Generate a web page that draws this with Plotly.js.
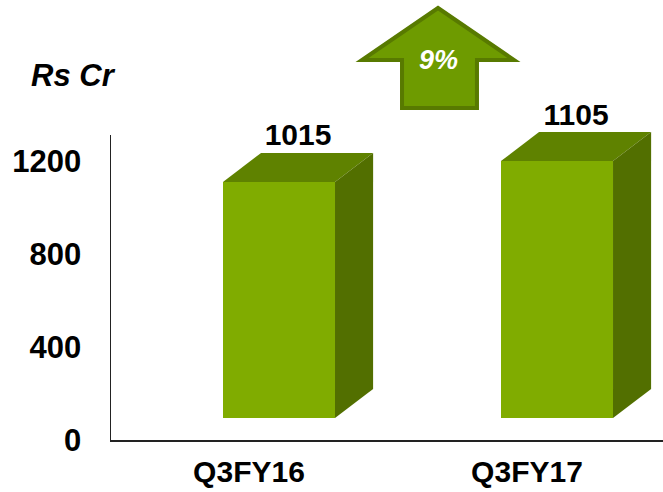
<!DOCTYPE html>
<html>
<head>
<meta charset="utf-8">
<script src="https://cdn.plot.ly/plotly-3.0.1.min.js"></script>
<style>html,body{margin:0;padding:0;background:#fff;}#chart{width:663px;height:492px;}</style>
</head>
<body>
<div id="chart"></div>
<script>
const categories = ['Q3FY16', 'Q3FY17'];
const revenue = [1015, 1105];
const yTicks = [0, 400, 800, 1200];
const growthLabel = '9%';
const unitLabel = 'Rs Cr';

const FONT = 'Arial, "Liberation Sans", sans-serif';
const frontColor = '#80ac00';
const topColor = '#5f8200';
const sideColor = '#526f00';

const barWidth = 0.403;   // in category units
const depthX = 0.137;     // 3D depth, x units
const depthY = 125;       // 3D depth, y units
const labelShift = -0.108;

const idx = categories.map((c, i) => i);
const traces = [];

// front faces
traces.push({
  type: 'bar', x: idx, y: revenue, width: barWidth,
  xaxis: 'x', yaxis: 'y2',
  marker: {color: frontColor, line: {width: 0}},
  hoverinfo: 'skip'
});

// top and side faces computed from the values
idx.forEach(i => {
  const v = revenue[i];
  const x0 = i - barWidth / 2, x1 = i + barWidth / 2;
  traces.push({
    type: 'scatter', mode: 'lines', fill: 'toself',
    x: [x0, x1, x1 + depthX, x0 + depthX, x0],
    y: [v, v, v + depthY, v + depthY, v],
    xaxis: 'x', yaxis: 'y2',
    line: {width: 0, color: topColor}, fillcolor: topColor, hoverinfo: 'skip'
  });
  traces.push({
    type: 'scatter', mode: 'lines', fill: 'toself',
    x: [x1, x1 + depthX, x1 + depthX, x1, x1],
    y: [0, depthY, v + depthY, v, 0],
    xaxis: 'x', yaxis: 'y2',
    line: {width: 0, color: sideColor}, fillcolor: sideColor, hoverinfo: 'skip'
  });
});

// value labels
traces.push({
  type: 'scatter', mode: 'text',
  x: idx.map(i => i + depthX / 2),
  y: revenue.map(v => v + depthY),
  text: revenue.map(v => String(v)),
  textposition: 'top center',
  textfont: {family: FONT, size: 30, color: '#000', weight: 'bold'},
  cliponaxis: false,
  xaxis: 'x', yaxis: 'y2', hoverinfo: 'skip'
});

// invisible trace on main y axis so it is drawn
traces.push({type: 'scatter', mode: 'none', x: [0], y: [0], xaxis: 'x', yaxis: 'y', hoverinfo: 'skip'});

const layout = {
  width: 663, height: 492,
  margin: {l: 111, r: 0, t: 100, b: 52},
  paper_bgcolor: '#ffffff', plot_bgcolor: 'rgba(0,0,0,0)',
  showlegend: false, hovermode: false,
  xaxis: {
    range: [-0.6043, 1.3813], anchor: 'y',
    showline: true, linecolor: '#222', linewidth: 1.5,
    showgrid: false, zeroline: false,
    tickmode: 'array', tickvals: idx.map(i => i + labelShift), ticktext: categories,
    ticks: '', ticklabelstandoff: 4,
    tickfont: {family: FONT, size: 30, color: '#000', weight: 'bold'}
  },
  yaxis: {
    domain: [0, 0.897], range: [0, 1312], anchor: 'x',
    showline: true, linecolor: '#222', linewidth: 1.5,
    showgrid: false, zeroline: false,
    tickmode: 'array', tickvals: yTicks, ticktext: yTicks.map(String),
    ticks: '', ticklabelstandoff: 22,
    tickfont: {family: FONT, size: 31, color: '#000', weight: 'bold'}
  },
  yaxis2: {
    domain: [0.0647, 1], range: [0, 1367.7], anchor: 'x',
    visible: false, showgrid: false, zeroline: false
  },
  bargap: 0,
  shapes: [{
    type: 'path', xref: 'paper', yref: 'paper',
    path: 'M 0.5924 1.2706 L 0.7301 1.1176 L 0.6630 1.1176 L 0.6630 0.9765 L 0.5272 0.9765 L 0.5272 1.1176 L 0.4547 1.1176 Z',
    fillcolor: '#6e9b00', line: {color: '#587a00', width: 4}
  }],
  annotations: [
    {xref: 'paper', yref: 'paper', x: -0.0688, y: 1.0706, xanchor: 'center', yanchor: 'middle',
     text: unitLabel, showarrow: false,
     font: {family: FONT, size: 31, color: '#000', weight: 'bold', style: 'italic'}},
    {xref: 'paper', yref: 'paper', x: 0.5942, y: 1.1176, xanchor: 'center', yanchor: 'middle',
     text: growthLabel, showarrow: false,
     font: {family: FONT, size: 27, color: '#ffffff', weight: 'bold', style: 'italic'}}
  ]
};

Plotly.newPlot('chart', traces, layout, {staticPlot: true, displayModeBar: false});
</script>
</body>
</html>
